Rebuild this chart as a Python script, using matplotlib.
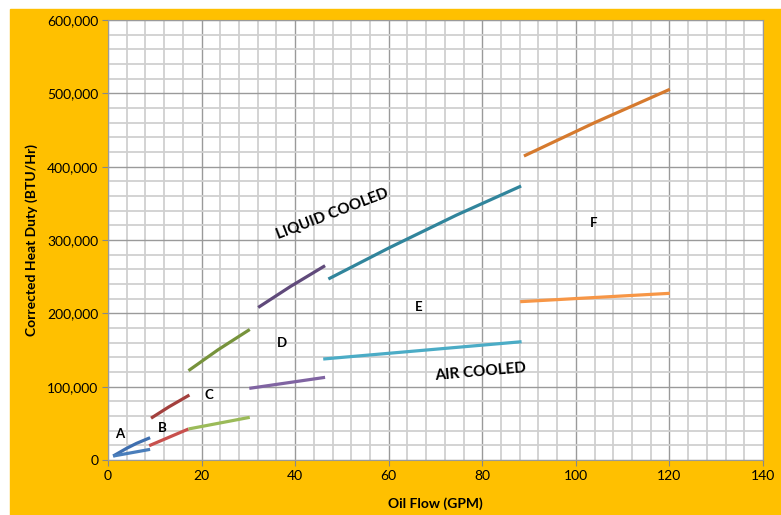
import matplotlib.pyplot as plt
from matplotlib.patches import Rectangle
from matplotlib.ticker import MultipleLocator, FuncFormatter

# Liquid cooled curves (GPM, BTU/Hr)
liq_a_x = [1.1, 4.0, 6.1, 9.0]
liq_a_y = [5400, 16000, 22700, 30400]
liq_b_x = [9.2, 13.0, 17.4]
liq_b_y = [57000, 72400, 88600]
liq_c_x = [17.2, 23.5, 30.3]
liq_c_y = [121800, 150200, 178000]
liq_d_x = [32.1, 39.0, 46.4]
liq_d_y = [208000, 236600, 265000]
liq_e_x = [47.1, 60.3, 74.5, 88.3]
liq_e_y = [246800, 290000, 334000, 373600]
liq_f_x = [88.9, 104.0, 120.1]
liq_f_y = [414500, 460000, 505500]

# Air cooled curves
air_a_x = [1.1, 9.0]
air_a_y = [5400, 14500]
air_b_x = [8.8, 17.2]
air_b_y = [19500, 42300]
air_c_x = [17.2, 30.3]
air_c_y = [42300, 58200]
air_d_x = [30.2, 46.4]
air_d_y = [97700, 112700]
air_e_x = [46.0, 88.4]
air_e_y = [137700, 161300]
air_f_x = [88.1, 120.1]
air_f_y = [215900, 227300]

models = ["A", "B", "C", "D", "E", "F"]
label_x = [2.6, 11.5, 21.6, 37.2, 66.3, 103.7]
label_y = [35000, 43600, 88600, 159500, 208600, 323000]

liquid = [(liq_a_x, liq_a_y, "#3F6FAF"), (liq_b_x, liq_b_y, "#A3403D"),
          (liq_c_x, liq_c_y, "#77933C"), (liq_d_x, liq_d_y, "#604A7B"),
          (liq_e_x, liq_e_y, "#31859C"), (liq_f_x, liq_f_y, "#D67A2E")]
air = [(air_a_x, air_a_y, "#4A7EBB"), (air_b_x, air_b_y, "#C8504D"),
       (air_c_x, air_c_y, "#9BBB59"), (air_d_x, air_d_y, "#8064A2"),
       (air_e_x, air_e_y, "#4BACC6"), (air_f_x, air_f_y, "#F79646")]

plt.rcParams['font.family'] = ['Lato', 'DejaVu Sans']

fig = plt.figure(figsize=(7.81, 5.15), dpi=100, facecolor="white")
# yellow chart-area background
fig.patches.append(Rectangle((10 / 781, 0), 771 / 781, 506 / 515,
                             transform=fig.transFigure, color="#FFC000", zorder=-10))
ax = fig.add_axes([108 / 781, 55 / 515, 655 / 781, 440 / 515])
ax.set_facecolor("white")

for xs, ys, c in liquid + air:
    ax.plot(xs, ys, color=c, lw=2.3, solid_capstyle="butt", zorder=3)

for m, lx, ly in zip(models, label_x, label_y):
    ax.text(lx, ly, m, fontsize=9.5, fontweight="bold", ha="center", va="center", zorder=4)

ax.text(48, 336000, "LIQUID COOLED", fontsize=11, fontweight="bold",
        rotation=21, ha="center", va="center", zorder=4)
ax.text(79.7, 120000, "AIR COOLED", fontsize=11, fontweight="bold",
        rotation=5, ha="center", va="center", zorder=4)

ax.set_xlim(0, 140)
ax.set_ylim(0, 600000)
ax.xaxis.set_major_locator(MultipleLocator(20))
ax.xaxis.set_minor_locator(MultipleLocator(4))
ax.yaxis.set_major_locator(MultipleLocator(100000))
ax.yaxis.set_minor_locator(MultipleLocator(20000))
ax.yaxis.set_major_formatter(FuncFormatter(lambda v, p: f"{int(v):,}"))

ax.grid(which="minor", color="#D0D0D0", lw=1.3, zorder=1)
ax.grid(which="major", color="#9A9A9A", lw=1.0, zorder=2)
ax.set_axisbelow(True)
ax.tick_params(which="minor", length=0)
ax.tick_params(which="major", length=4, color="#888888", labelsize=10, pad=3)
for s in ax.spines.values():
    s.set_color("#9A9A9A")

ax.set_xlabel("Oil Flow (GPM)", fontsize=10, fontweight="bold")
ax.set_ylabel("Corrected Heat Duty (BTU/Hr)", fontsize=10, fontweight="bold")
ax.xaxis.set_label_coords(0.5, -0.1, transform=ax.transAxes)
ax.yaxis.set_label_coords(-0.116, 0.5, transform=ax.transAxes)
ax.xaxis.label.set_va("center")
ax.yaxis.label.set_va("center")

fig.savefig("out.png", dpi=100, facecolor=fig.get_facecolor())
